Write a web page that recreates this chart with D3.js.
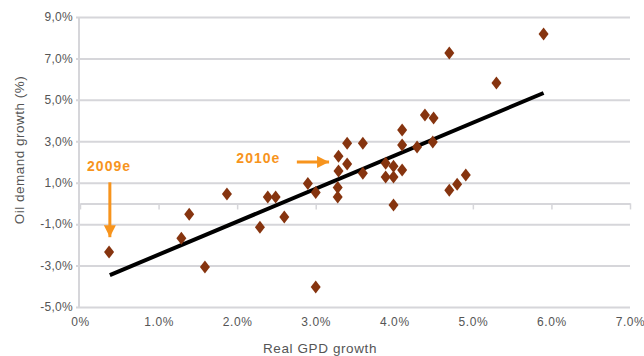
<!DOCTYPE html>
<html>
<head>
<meta charset="utf-8">
<script src="https://cdn.jsdelivr.net/npm/d3@7"></script>
<style>
  html, body { margin: 0; padding: 0; background: #fff; }
  svg { display: block; font-family: "Liberation Sans", Arial, sans-serif; }
</style>
</head>
<body>
<svg id="chart" width="644" height="356"></svg>
<script>
// Real GDP growth (%) and oil demand growth (%)
const gdpGrowth = [0.37, 1.39, 1.29, 1.59, 1.87, 2.39, 2.49, 2.29, 2.60, 2.90,
                   3.00, 3.00, 3.28, 3.28, 3.99, 3.40, 3.60, 3.29, 3.40, 3.29,
                   3.60, 4.10, 4.10, 4.29, 4.49, 4.39, 4.50, 3.89, 3.99, 4.10,
                   3.89, 3.99, 4.70, 4.80, 4.91, 4.70, 5.30, 5.90];
const oilGrowth = [-2.35, -0.52, -1.68, -3.07, 0.45, 0.31, 0.31, -1.15, -0.66, 0.96,
                   0.53, -4.04, 0.77, 0.31, -0.08, 2.91, 2.91, 2.28, 1.90, 1.56,
                   1.46, 3.55, 2.82, 2.72, 2.96, 4.27, 4.12, 1.94, 1.80, 1.61,
                   1.27, 1.27, 0.64, 0.93, 1.37, 7.26, 5.81, 8.18];
// Trend line endpoints
const trendX = [0.38, 5.90];
const trendY = [-3.46, 5.33];
// Tick values and labels
const yTicks = [9, 7, 5, 3, 1, -1, -3, -5];
const yTickLabels = ["9,0%", "7,0%", "5,0%", "3,0%", "1,0%", "-1,0%", "-3,0%", "-5,0%"];
const xTicks = [0, 1, 2, 3, 4, 5, 6, 7];
const xTickLabels = ["0%", "1.0%", "2.0%", "3.0%", "4.0%", "5.0%", "6.0%", "7.0%"];
// Annotations
const annLabels = ["2009e", "2010e"];

const svg = d3.select("#chart");
const margin = {left: 80, right: 14, top: 17, bottom: 49};
const W = 644, H = 356;
const x = d3.scaleLinear().domain([0, 7]).range([margin.left, W - margin.right]);
const y = d3.scaleLinear().domain([-5, 9]).range([H - margin.bottom, margin.top]);

const grid = "#d6d6da";
const textCol = "#555";
const orange = "#f7941d";
const markerCol = "#86340f";

// Horizontal gridlines with outward ticks
const yAxis = d3.axisLeft(y).tickValues(yTicks)
  .tickFormat((d, i) => yTickLabels[i])
  .tickSize(-(W - margin.right - margin.left)).tickPadding(6);
const gy = svg.append("g").attr("transform", `translate(${margin.left},0)`).call(yAxis);
gy.select(".domain").remove();
gy.selectAll(".tick line").attr("stroke", grid).attr("stroke-width", 2)
  .attr("x1", -4);
gy.selectAll(".tick text").attr("fill", textCol).attr("font-size", 12)
  .attr("letter-spacing", 0.3).attr("x", -7);

// Vertical axis line
svg.append("line")
  .attr("x1", margin.left - 1).attr("x2", margin.left - 1)
  .attr("y1", y(9)).attr("y2", y(-5))
  .attr("stroke", grid).attr("stroke-width", 2);

// Zero line with ticks below
const xAxisZero = d3.axisBottom(x).tickValues(xTicks).tickFormat("").tickSize(6).tickSizeOuter(0);
const gz = svg.append("g").attr("transform", `translate(0,${y(0)})`).call(xAxisZero);
gz.select(".domain").attr("stroke", grid).attr("stroke-width", 2);
gz.selectAll(".tick line").attr("stroke", grid).attr("stroke-width", 1.5);

// X tick labels at bottom
const xAxisB = d3.axisBottom(x).tickValues(xTicks).tickFormat((d, i) => xTickLabels[i]).tickSize(0).tickPadding(10);
const gb = svg.append("g").attr("transform", `translate(0,${y(-5)})`).call(xAxisB);
gb.select(".domain").remove();
gb.selectAll(".tick text").attr("fill", textCol).attr("font-size", 12).attr("letter-spacing", 0.6);

// Axis titles
svg.append("text").attr("x", 320).attr("y", 353).attr("text-anchor", "middle")
  .attr("fill", textCol).attr("font-size", 13.5).attr("letter-spacing", 0.6).text("Real GPD growth");
svg.append("text").attr("transform", "translate(24,150) rotate(-90)").attr("text-anchor", "middle")
  .attr("fill", textCol).attr("font-size", 13.5).attr("letter-spacing", 0.5).text("Oil demand growth  (%)");

// Trend line
svg.append("line")
  .attr("x1", x(trendX[0])).attr("y1", y(trendY[0]))
  .attr("x2", x(trendX[1])).attr("y2", y(trendY[1]))
  .attr("stroke", "#000").attr("stroke-width", 4);

// Points as diamonds
svg.append("g").selectAll("path").data(gdpGrowth.map((g, i) => [g, oilGrowth[i]]))
  .join("path")
  .attr("transform", d => `translate(${x(d[0])},${y(d[1])})`)
  .attr("d", "M0,-6.5L5,0L0,6.5L-5,0Z")
  .attr("fill", markerCol);

// Annotations
const defs = svg.append("defs");
defs.append("marker").attr("id", "ah").attr("viewBox", "0 0 10 10")
  .attr("refX", 10).attr("refY", 5).attr("markerWidth", 4).attr("markerHeight", 4)
  .attr("markerUnits", "strokeWidth").attr("orient", "auto")
  .append("path").attr("d", "M0,0L10,5L0,10Z").attr("fill", orange);

svg.append("text").attr("x", x(0.09)).attr("y", y(1.55))
  .attr("fill", orange).attr("font-size", 14).attr("font-weight", "bold").attr("letter-spacing", 1)
  .text(annLabels[0]);
svg.append("line")
  .attr("x1", x(0.38)).attr("y1", y(1.02))
  .attr("x2", x(0.38)).attr("y2", y(-1.63))
  .attr("stroke", orange).attr("stroke-width", 3).attr("marker-end", "url(#ah)");

svg.append("text").attr("x", x(1.99)).attr("y", y(1.95))
  .attr("fill", orange).attr("font-size", 14).attr("font-weight", "bold").attr("letter-spacing", 1)
  .text(annLabels[1]);
svg.append("line")
  .attr("x1", x(2.76)).attr("y1", y(2.0))
  .attr("x2", x(3.17)).attr("y2", y(2.0))
  .attr("stroke", orange).attr("stroke-width", 3).attr("marker-end", "url(#ah)");
</script>
</body>
</html>
